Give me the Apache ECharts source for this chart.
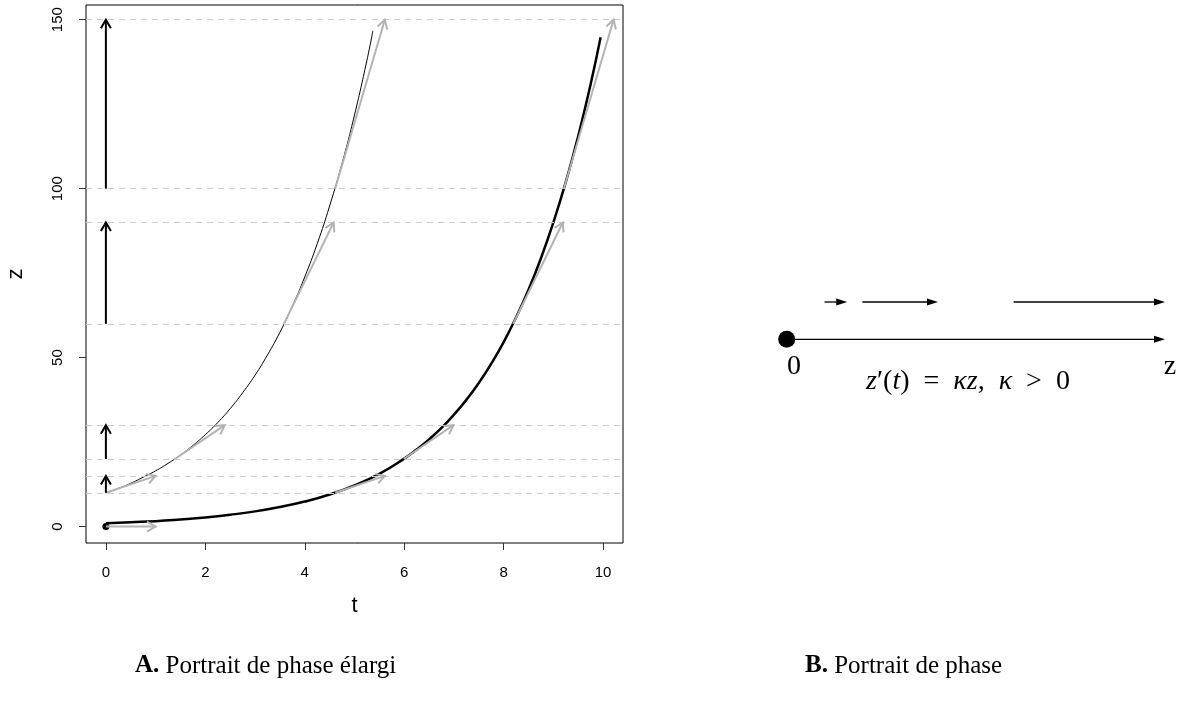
<!DOCTYPE html>
<html>
<head>
<meta charset="utf-8">
<script src="https://cdn.jsdelivr.net/npm/echarts@6/dist/echarts.min.js"></script>
<style>
html,body{margin:0;padding:0;background:#fff;}
#chart{width:1177px;height:708px;}
</style>
</head>
<body>
<div id="chart"></div>
<script>
// ---- Data ----
const tTicks = [0, 2, 4, 6, 8, 10];
const zTicks = [0, 50, 100, 150];

// thin curve z(t) starting at z = 10
const thinT = [0, 0.25, 0.5, 0.75, 1, 1.25, 1.5, 1.75, 2, 2.25, 2.5, 2.75, 3, 3.25, 3.5, 3.75, 4, 4.25, 4.5, 4.75, 5, 5.25, 5.37];
const thinZ = [10, 11.3, 12.8, 14.6, 16.5, 18.7, 21.2, 24.0, 27.2, 30.8, 34.9, 39.6, 44.8, 50.8, 57.5, 65.2, 73.9, 83.7, 94.9, 107.5, 121.8, 138.0, 146.7];

// thick curve z(t) starting at z = 1
const thickT = [0, 0.5, 1, 1.5, 2, 2.5, 3, 3.5, 4, 4.5, 5, 5.5, 6, 6.25, 6.5, 6.75, 7, 7.25, 7.5, 7.75, 8, 8.25, 8.5, 8.75, 9, 9.25, 9.5, 9.75, 9.95];
const thickZ = [1, 1.3, 1.6, 2.1, 2.7, 3.5, 4.5, 5.8, 7.4, 9.5, 12.2, 15.6, 20.1, 22.8, 25.8, 29.2, 33.1, 37.5, 42.5, 48.2, 54.6, 61.9, 70.1, 79.4, 90.0, 102.0, 115.6, 131.0, 144.8];

// dashed reference levels
const levelZ = [10, 15, 20, 30, 60, 90, 100, 150];

// gray tangent arrows: start (t,z) -> end (t,z)
const grayStartT = [0, 0, 1.39, 3.58, 4.61, 4.61, 5.99, 8.19, 9.21];
const grayStartZ = [0, 10, 20, 60, 100, 10, 20, 60, 100];
const grayEndT   = [1, 1, 2.39, 4.58, 5.61, 5.61, 6.99, 9.19, 10.21];
const grayEndZ   = [0, 15, 30, 90, 150, 15, 30, 90, 150];

// black vertical arrows at t = 0
const blackStartZ = [10, 20, 60, 100];
const blackEndZ   = [15, 30, 90, 150];

// equilibrium point
const equilibrium = [[0, 0]];

// phase line (panel B): z positions
const phaseAxisEnd = 10;
const phaseArrowStart = [1, 2, 6];
const phaseArrowEnd   = [1.6, 4, 10];

// ---- Helpers ----
function openArrow(color, width, headLen) {
  return function (params, api) {
    const p0 = api.coord([api.value(0), api.value(1)]);
    const p1 = api.coord([api.value(2), api.value(3)]);
    const ang = Math.atan2(p1[1] - p0[1], p1[0] - p0[0]);
    const a = Math.PI / 6;
    const h1 = [p1[0] - headLen * Math.cos(ang - a), p1[1] - headLen * Math.sin(ang - a)];
    const h2 = [p1[0] - headLen * Math.cos(ang + a), p1[1] - headLen * Math.sin(ang + a)];
    return {
      type: 'group',
      children: [
        { type: 'line', shape: { x1: p0[0], y1: p0[1], x2: p1[0], y2: p1[1] },
          style: { stroke: color, lineWidth: width } },
        { type: 'polyline', shape: { points: [h1, p1, h2] },
          style: { stroke: color, lineWidth: width, fill: null, lineJoin: 'miter' } }
      ]
    };
  };
}
function filledArrow(color, width, headLen, halfW) {
  return function (params, api) {
    const p0 = api.coord([api.value(0), api.value(1)]);
    const p1 = api.coord([api.value(2), api.value(3)]);
    const ang = Math.atan2(p1[1] - p0[1], p1[0] - p0[0]);
    const c = Math.cos(ang), s = Math.sin(ang);
    const base = [p1[0] - headLen * c, p1[1] - headLen * s];
    const b1 = [base[0] - halfW * s, base[1] + halfW * c];
    const b2 = [base[0] + halfW * s, base[1] - halfW * c];
    return {
      type: 'group',
      children: [
        { type: 'line', shape: { x1: p0[0], y1: p0[1], x2: base[0] + 1 * c, y2: base[1] + 1 * s },
          style: { stroke: color, lineWidth: width } },
        { type: 'polygon', shape: { points: [p1, b1, b2] },
          style: { fill: color, stroke: null } }
      ]
    };
  };
}

const zip = (a, b) => a.map((v, i) => [v, b[i]]);
const grayData = grayStartT.map((t, i) => [t, grayStartZ[i], grayEndT[i], grayEndZ[i]]);
const blackData = blackStartZ.map((z, i) => [0, z, 0, blackEndZ[i]]);
const phaseData = [[0, 0, phaseAxisEnd, 0]].concat(
  phaseArrowStart.map((s, i) => [s, 1, phaseArrowEnd[i], 1]));

const sans = 'Liberation Sans, Arial, Helvetica, sans-serif';
const serif = 'Liberation Serif, Times New Roman, serif';
const sp = '\u2002';

const chart = echarts.init(document.getElementById('chart'), null, { renderer: 'canvas' });
chart.setOption({
  animation: false,
  backgroundColor: '#fff',
  grid: [
    { left: 86, top: 5, width: 537, height: 538, show: true, borderColor: '#000', borderWidth: 1,
      backgroundColor: 'transparent' },
    { left: 786.7, top: 302, width: 378.3, height: 37.3, show: false }
  ],
  xAxis: [
    { type: 'value', gridIndex: 0, min: -0.4, max: 10.4,
      axisLine: { show: false, onZero: false },
      axisTick: { show: true, inside: false, length: 7, customValues: tTicks, lineStyle: { color: '#333', width: 1 } },
      axisLabel: { customValues: tTicks, margin: 22, color: '#000', fontFamily: sans, fontSize: 15 },
      splitLine: { show: false },
      name: 't', nameLocation: 'middle', nameGap: 52,
      nameTextStyle: { fontFamily: sans, fontSize: 22, color: '#000' } },
    { type: 'value', gridIndex: 1, min: 0, max: phaseAxisEnd, show: false }
  ],
  yAxis: [
    { type: 'value', gridIndex: 0, min: -4.86, max: 154.35,
      axisLine: { show: false, onZero: false },
      axisTick: { show: true, inside: false, length: 7, customValues: zTicks, lineStyle: { color: '#333', width: 1 } },
      axisLabel: { customValues: zTicks, rotate: 90, margin: 21, color: '#000', fontFamily: sans, fontSize: 15 },
      splitLine: { show: false },
      name: 'z', nameLocation: 'middle', nameRotate: 90, nameGap: 59,
      nameTextStyle: { fontFamily: sans, fontSize: 22, color: '#000' } },
    { type: 'value', gridIndex: 1, min: 0, max: 1, show: false }
  ],
  series: [
    { type: 'line', xAxisIndex: 0, yAxisIndex: 0, data: [], silent: true,
      markLine: { silent: true, symbol: ['none', 'none'], label: { show: false },
        lineStyle: { type: [6, 5], color: '#cccccc', width: 1 },
        data: levelZ.map(z => ({ yAxis: z })) }, z: 1 },
    { type: 'line', name: 'thin', xAxisIndex: 0, yAxisIndex: 0, data: zip(thinT, thinZ),
      smooth: true, showSymbol: false, lineStyle: { color: '#000', width: 1 }, z: 3 },
    { type: 'line', name: 'thick', xAxisIndex: 0, yAxisIndex: 0, data: zip(thickT, thickZ),
      smooth: true, showSymbol: false, lineStyle: { color: '#000', width: 2.5 }, z: 3 },
    { type: 'scatter', xAxisIndex: 0, yAxisIndex: 0, data: equilibrium, symbolSize: 7,
      itemStyle: { color: '#000', opacity: 1 }, z: 4 },
    { type: 'custom', xAxisIndex: 0, yAxisIndex: 0, data: grayData,
      encode: { x: [0, 2], y: [1, 3] }, renderItem: openArrow('#b3b3b3', 2, 10), z: 5 },
    { type: 'custom', xAxisIndex: 0, yAxisIndex: 0, data: blackData,
      encode: { x: [0, 2], y: [1, 3] }, renderItem: openArrow('#000', 2, 10), z: 6 },
    // panel B
    { type: 'custom', xAxisIndex: 1, yAxisIndex: 1, data: phaseData,
      encode: { x: [0, 2], y: [1, 3] }, renderItem: filledArrow('#000', 1.3, 11, 3.5), z: 5 },
    { type: 'scatter', xAxisIndex: 1, yAxisIndex: 1, data: [[0, 0]], symbolSize: 17,
      itemStyle: { color: '#000', opacity: 1 }, z: 6 }
  ],
  graphic: [
    { type: 'text', x: 794, y: 367, style: { text: '0', align: 'center', verticalAlign: 'middle',
        font: '28px ' + serif, fill: '#000' } },
    { type: 'text', x: 1170, y: 367, style: { text: 'z', align: 'center', verticalAlign: 'middle',
        font: '28px ' + serif, fill: '#000' } },
    { type: 'text', x: 968, y: 382, style: {
        text: '{i|z}′({i|t})' + sp + '=' + sp + '{i|κz},' + sp + '{i|κ}' + sp + '>' + sp + '0',
        align: 'center', verticalAlign: 'middle',
        font: '28px ' + serif, fill: '#000',
        rich: { i: { fontStyle: 'italic', fontFamily: serif, fontSize: 28 } } } },
    { type: 'text', x: 135, y: 666, style: {
        text: '{b|A.} Portrait de phase élargi', verticalAlign: 'middle',
        font: '25px ' + serif, fill: '#000',
        rich: { b: { fontWeight: 'bold', fontFamily: serif, fontSize: 25 } } } },
    { type: 'text', x: 805, y: 666, style: {
        text: '{b|B.} Portrait de phase', verticalAlign: 'middle',
        font: '25px ' + serif, fill: '#000',
        rich: { b: { fontWeight: 'bold', fontFamily: serif, fontSize: 25 } } } }
  ]
});
</script>
</body>
</html>
